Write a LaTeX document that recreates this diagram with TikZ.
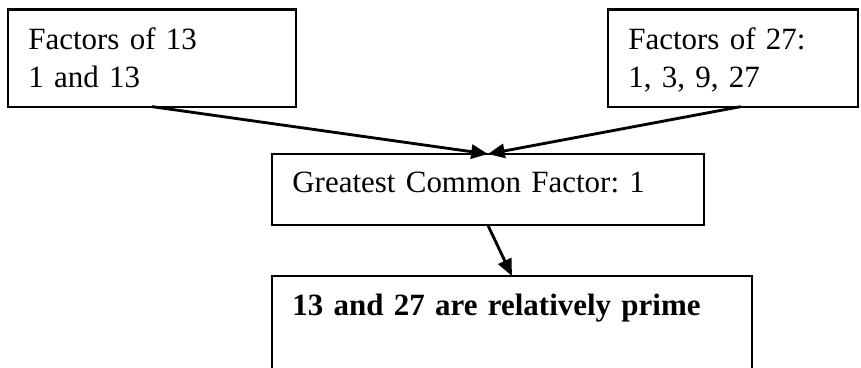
\documentclass[tikz,border=0pt]{standalone}
\usepackage{fontspec}
\setmainfont{Liberation Serif}
\frenchspacing
\usetikzlibrary{arrows.meta}
\begin{document}
\begin{tikzpicture}[x=0.3876pt, y=-0.3876pt,
	cadre/.style={draw, line width=0.8pt, anchor=north west, align=left, inner xsep=7.9pt, inner ysep=7.1pt, outer sep=0pt, font=\fontsize{12}{14.7}\selectfont},
	fleche/.style={-{Triangle[length=6.5pt, width=5.5pt]}, line width=1.1pt}]
	\useasboundingbox (0, 0) rectangle (861, 367);
	\node[cadre, text width=95.8pt, text depth=15pt] (f13) at (8, 9.5) {Factors of 13\\1 and 13};
	\node[cadre, text width=81.1pt, text depth=15pt] (f27) at (608, 9.5) {Factors of 27:\\1, 3, 9, 27};
	\node[cadre, text width=151.6pt, text depth=5.5pt] (pgcd) at (272, 154) {Greatest Common Factor: 1};
	\node[cadre, text width=170.2pt, text depth=30pt, font=\fontsize{12}{14.7}\selectfont\bfseries] (prem) at (272, 276) {13 and 27 are relatively prime};
	\draw[fleche] (f13.south) -- (pgcd.north);
	\draw[fleche] ([xshift=3pt]f27.south) -- (pgcd.north);
	\draw[fleche] (pgcd.south) -- (prem.north);
\end{tikzpicture}
\end{document}
